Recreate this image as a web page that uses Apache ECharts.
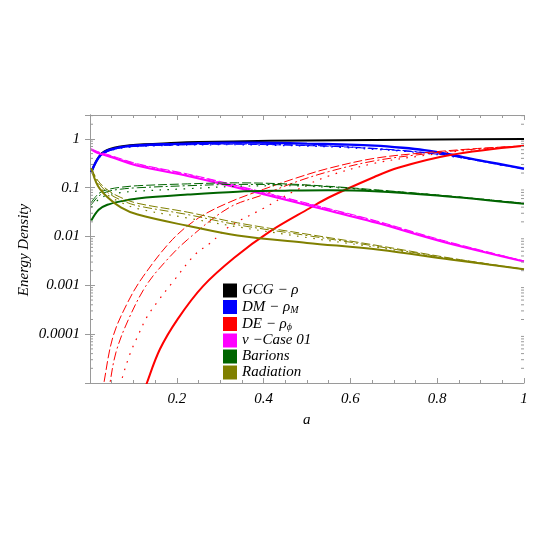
<!DOCTYPE html>
<html><head><meta charset="utf-8">
<script src="https://cdn.jsdelivr.net/npm/echarts@6/dist/echarts.min.js"></script>
<style>html,body{margin:0;padding:0;background:#fff}#c{width:545px;height:545px}</style>
</head><body><div id="c"></div>
<script>
// ---- data ----
const legendNames = ['GCG − ρ', 'DM − ρM', 'DE − ρϕ', 'ν −Case 01', 'Barions', 'Radiation'];
const xTicks = [0.2, 0.4, 0.6, 0.8, 1];
const yTickLabels = ['1', '0.1', '0.01', '0.001', '0.0001'];

const aBlack = [0.003, 0.023, 0.046, 0.092, 0.2, 0.25, 0.33, 0.5, 0.655, 0.8, 1];
const gcg = [0.21, 0.46, 0.62, 0.74, 0.83, 0.86, 0.89, 0.93, 0.95, 0.97, 1.0];

const aBlue = [0.003, 0.023, 0.046, 0.092, 0.2, 0.33, 0.42, 0.5, 0.58, 0.655, 0.72, 0.77, 0.83, 0.885, 0.94, 1];
const dmSolid = [0.21, 0.45, 0.6, 0.72, 0.79, 0.84, 0.83, 0.8, 0.77, 0.73, 0.66, 0.59, 0.48, 0.38, 0.31, 0.245];
const dmDash = [0.21, 0.44, 0.58, 0.69, 0.75, 0.78, 0.76, 0.73, 0.69, 0.63, 0.57, 0.52, 0.45, 0.37, 0.3, 0.245];
const dmDashDot = [0.21, 0.44, 0.59, 0.70, 0.76, 0.79, 0.77, 0.74, 0.70, 0.64, 0.58, 0.53, 0.46, 0.38, 0.31, 0.245];
const dmDot = [0.21, 0.43, 0.57, 0.68, 0.74, 0.76, 0.74, 0.71, 0.67, 0.61, 0.56, 0.51, 0.44, 0.37, 0.3, 0.245];

const aDeSolid = [0.12, 0.131, 0.161, 0.202, 0.26, 0.333, 0.414, 0.506, 0.55, 0.655, 0.71, 0.83, 1];
const deSolid = [5.0e-6, 1e-5, 4.9e-5, 2.04e-4, 9.55e-4, 3.72e-3, 0.0126, 0.038, 0.0631, 0.166, 0.257, 0.468, 0.724];
const aDeDash = [0.029, 0.032, 0.053, 0.087, 0.122, 0.19, 0.25, 0.32, 0.4, 0.475, 0.55, 0.655, 0.77, 0.885, 1];
const deDash = [6e-6, 1e-5, 8.9e-5, 4.5e-4, 1.5e-3, 8.7e-3, 0.024, 0.05, 0.093, 0.158, 0.25, 0.4, 0.52, 0.63, 0.72];
const aDeDashDot = [0.043, 0.046, 0.06, 0.087, 0.128, 0.172, 0.225, 0.32, 0.4, 0.475, 0.55, 0.655, 0.77, 0.885, 1];
const deDashDot = [6e-6, 1e-5, 4.3e-5, 1.86e-4, 9.5e-4, 2.95e-3, 8.7e-3, 0.0389, 0.0724, 0.132, 0.214, 0.355, 0.49, 0.617, 0.724];
const aDeDot = [0.067, 0.071, 0.092, 0.11, 0.131, 0.156, 0.19, 0.242, 0.279, 0.32, 0.4, 0.475, 0.55, 0.655, 0.77, 0.885, 1];
const deDot = [6e-6, 1e-5, 3.9e-5, 9.1e-5, 2.24e-4, 4.68e-4, 1.15e-3, 4.27e-3, 7.59e-3, 0.0158, 0.038, 0.0891, 0.174, 0.316, 0.457, 0.603, 0.708];

const aNu = [0.003, 0.018, 0.041, 0.11, 0.225, 0.34, 0.506, 0.66, 0.81, 1];
const nuSolid = [0.603, 0.513, 0.447, 0.282, 0.174, 0.1, 0.0427, 0.0191, 0.00794, 0.00309];
const nuDash = [0.631, 0.550, 0.479, 0.309, 0.191, 0.110, 0.0468, 0.0209, 0.00851, 0.00316];
const nuDashDot = [0.617, 0.537, 0.468, 0.302, 0.186, 0.107, 0.0457, 0.0204, 0.00832, 0.00316];
const nuDot = [0.617, 0.531, 0.457, 0.295, 0.182, 0.105, 0.0447, 0.0200, 0.00813, 0.00309];

const aBar = [0.003, 0.02, 0.04, 0.07, 0.11, 0.225, 0.34, 0.45, 0.55, 0.655, 0.8, 1];
const barSolid = [0.0214, 0.0355, 0.0447, 0.0525, 0.0603, 0.0724, 0.0832, 0.0871, 0.0891, 0.0851, 0.0692, 0.0468];
const barDash = [0.0501, 0.0759, 0.0912, 0.102, 0.110, 0.120, 0.126, 0.120, 0.107, 0.0912, 0.0708, 0.0479];
const barDashDot = [0.0447, 0.0676, 0.0832, 0.0933, 0.1, 0.110, 0.117, 0.115, 0.105, 0.0891, 0.0708, 0.0479];
const barDot = [0.0398, 0.0575, 0.0708, 0.0794, 0.0851, 0.0955, 0.107, 0.110, 0.102, 0.0891, 0.0708, 0.0479];

const aRad = [0.003, 0.018, 0.041, 0.071, 0.11, 0.225, 0.34, 0.5, 0.667, 0.83, 1];
const radSolid = [0.251, 0.110, 0.0631, 0.0398, 0.0282, 0.0166, 0.0105, 0.00741, 0.00537, 0.00339, 0.00214];
const radDash = [0.251, 0.141, 0.0891, 0.0631, 0.0479, 0.0316, 0.0191, 0.0112, 0.00646, 0.00363, 0.00214];
const radDashDot = [0.251, 0.132, 0.0794, 0.0562, 0.0427, 0.0282, 0.0174, 0.0105, 0.00617, 0.00355, 0.00214];
const radDot = [0.251, 0.120, 0.0708, 0.0501, 0.0372, 0.0240, 0.0158, 0.00955, 0.00589, 0.00347, 0.00214];

// ---- styles ----
const C = {black: '#000000', blue: '#0000ff', red: '#ff0000', magenta: '#ff00ff', green: '#006400', olive: '#808000'};
const DASH = [9, 3], DASHDOT = [9, 3, 2, 3], DOT = [1.6, 6.5];
const FONT = 'Liberation Serif';

function pairs(a, v) { return a.map((x, i) => [x, v[i]]); }
function line(name, a, v, color, width, type) {
  return {
    name: name, type: 'line', data: pairs(a, v), showSymbol: false, symbol: 'none',
    smooth: 0.35, color: color, silent: true,
    lineStyle: {color: color, width: width, type: type || 'solid'}
  };
}

const series = [
  line(legendNames[0], aBlack, gcg, C.black, 2),
  line('dm1', aBlue, dmDash, C.blue, 1, DASH),
  line('dm2', aBlue, dmDashDot, C.blue, 1, DASHDOT),
  line('dm3', aBlue, dmDot, C.blue, 1.2, DOT),
  line(legendNames[1], aBlue, dmSolid, C.blue, 2.4),
  line('de1', aDeDash, deDash, C.red, 1, DASH),
  line('de2', aDeDashDot, deDashDot, C.red, 1, DASHDOT),
  line('de3', aDeDot, deDot, C.red, 1.2, DOT),
  line(legendNames[2], aDeSolid, deSolid, C.red, 2),
  line('nu1', aNu, nuDash, C.magenta, 1, DASH),
  line('nu2', aNu, nuDashDot, C.magenta, 1, DASHDOT),
  line('nu3', aNu, nuDot, C.magenta, 1.2, DOT),
  line(legendNames[3], aNu, nuSolid, C.magenta, 2),
  line('b1', aBar, barDash, C.green, 1, DASH),
  line('b2', aBar, barDashDot, C.green, 1, DASHDOT),
  line('b3', aBar, barDot, C.green, 1.2, DOT),
  line(legendNames[4], aBar, barSolid, C.green, 2),
  line('r1', aRad, radDash, C.olive, 1, DASH),
  line('r2', aRad, radDashDot, C.olive, 1, DASHDOT),
  line('r3', aRad, radDot, C.olive, 1.2, DOT),
  line(legendNames[5], aRad, radSolid, C.olive, 2)
];

// minor log ticks on left and right edges
const minorVals = [];
for (let e = -5; e <= 0; e++) for (let m = 2; m <= 9; m++) { const v = m * Math.pow(10, e); if (v < 3.09) minorVals.push(v); }
series.push({
  type: 'custom', silent: true, z: 10, clip: false,
  data: minorVals.map(v => [0, v]),
  renderItem: function (params, api) {
    const pL = api.coord([0, api.value(1)]);
    const pR = api.coord([1, api.value(1)]);
    const st = {stroke: '#999', lineWidth: 1};
    return {type: 'group', children: [
      {type: 'line', shape: {x1: pL[0], y1: pL[1], x2: pL[0] + 3, y2: pL[1]}, style: st},
      {type: 'line', shape: {x1: pR[0], y1: pR[1], x2: pR[0] - 3, y2: pR[1]}, style: st}
    ]};
  }
});

function yLabel(v) {
  const e = Math.round(Math.log10(v) * 1000) / 1000;
  if (Number.isInteger(e) && e <= 0 && e >= -4) return yTickLabels[-e];
  return '';
}
function xLabel(v) {
  for (const t of xTicks) if (Math.abs(v - t) < 1e-9) return String(t);
  return '';
}
const axisLineStyle = {color: '#9a9a9a', width: 1};
const labelStyle = {fontFamily: FONT, fontStyle: 'italic', fontSize: 15, color: '#000'};

const chart = echarts.init(document.getElementById('c'), null, {renderer: 'canvas'});
chart.setOption({
  animation: false,
  backgroundColor: '#fff',
  grid: {left: 90, right: 21, top: 115, bottom: 162},
  xAxis: [{
    type: 'value', min: 0, max: 1, interval: 0.2, position: 'bottom',
    axisLine: {show: true, lineStyle: axisLineStyle},
    axisTick: {show: true, inside: true, length: 5, lineStyle: axisLineStyle},
    minorTick: {show: true, splitNumber: 4, length: 3, lineStyle: axisLineStyle},
    splitLine: {show: false},
    axisLabel: Object.assign({margin: 9, formatter: xLabel, showMinLabel: true, showMaxLabel: true}, labelStyle)
  }, {
    type: 'value', min: 0, max: 1, interval: 0.2, position: 'top',
    axisLine: {show: true, lineStyle: axisLineStyle},
    axisTick: {show: true, inside: true, length: 5, lineStyle: axisLineStyle},
    minorTick: {show: true, splitNumber: 4, length: 3, lineStyle: axisLineStyle},
    splitLine: {show: false}, axisLabel: {show: false}
  }],
  yAxis: [{
    type: 'log', logBase: 10, min: 1e-5, max: 3.09, splitNumber: 5, position: 'left',
    axisLine: {show: true, lineStyle: axisLineStyle},
    axisTick: {show: true, inside: true, length: 5, lineStyle: axisLineStyle},
    splitLine: {show: false},
    axisLabel: Object.assign({margin: 10, formatter: yLabel, showMinLabel: true, showMaxLabel: true}, labelStyle)
  }, {
    type: 'log', logBase: 10, min: 1e-5, max: 3.09, splitNumber: 5, position: 'right',
    axisLine: {show: true, lineStyle: axisLineStyle},
    axisTick: {show: true, inside: true, length: 5, lineStyle: axisLineStyle},
    splitLine: {show: false}, axisLabel: {show: false}
  }],
  legend: {
    data: legendNames, orient: 'vertical', left: 223, top: 283,
    itemWidth: 14, itemHeight: 14, itemGap: 1, icon: 'rect', padding: 0,
    selectedMode: false,
    formatter: function (n) {
      if (n === legendNames[1]) return '{t|DM − ρ}{s|M}';
      if (n === legendNames[2]) return '{t|DE − ρ}{s|ϕ}';
      return '{t|' + n + '}';
    },
    textStyle: {
      fontFamily: FONT, fontStyle: 'italic', fontSize: 15, color: '#000', lineHeight: 14,
      rich: {
        t: {fontFamily: FONT, fontStyle: 'italic', fontSize: 15, color: '#000', lineHeight: 14},
        s: {fontFamily: FONT, fontStyle: 'italic', fontSize: 10, color: '#000', lineHeight: 8, padding: [6, 0, 0, 0]}
      }
    }
  },
  graphic: [
    {type: 'text', x: 24, y: 250, rotation: Math.PI / 2,
      style: {text: 'Energy Density', font: 'italic 15px "Liberation Serif"', fill: '#000',
        align: 'center', verticalAlign: 'middle', textAlign: 'center', textVerticalAlign: 'middle'}},
    {type: 'text', left: 303, top: 413,
      style: {text: 'a', font: 'italic 15px "Liberation Serif"', fill: '#000'}}
  ],
  series: series
});
</script></body></html>
